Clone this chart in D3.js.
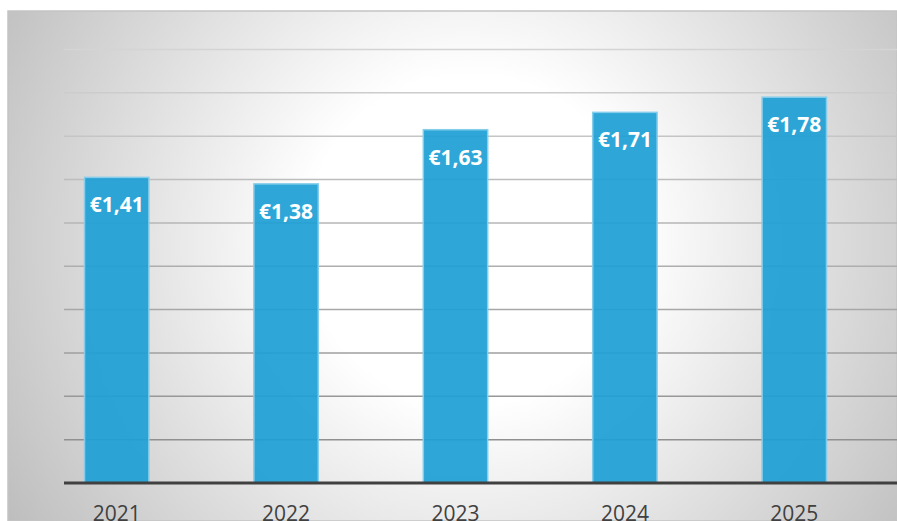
<!DOCTYPE html>
<html>
<head>
<meta charset="utf-8">
<script src="https://cdn.jsdelivr.net/npm/d3@7"></script>
<style>
  html, body { margin: 0; padding: 0; background: #fff; }
  svg { display: block; }
</style>
</head>
<body>
<svg id="chart"></svg>
<script>
const years = ["2021", "2022", "2023", "2024", "2025"];
const prices = [1.41, 1.38, 1.63, 1.71, 1.78];
const gridValues = [0.2, 0.4, 0.6, 0.8, 1.0, 1.2, 1.4, 1.6, 1.8, 2.0];

const width = 897, height = 521;

const svg = d3.select("#chart")
  .attr("width", width)
  .attr("height", height);

// fond en dégradé radial
const defs = svg.append("defs");
const grad = defs.append("radialGradient")
  .attr("id", "bg")
  .attr("gradientUnits", "userSpaceOnUse")
  .attr("cx", 470).attr("cy", 240).attr("r", 550);
grad.append("stop").attr("offset", 0).attr("stop-color", "#ffffff");
grad.append("stop").attr("offset", 0.3).attr("stop-color", "#ffffff");
grad.append("stop").attr("offset", 1).attr("stop-color", "#bcbcbc");

svg.append("rect")
  .attr("x", 8).attr("y", 11)
  .attr("width", width - 8).attr("height", height - 11)
  .attr("fill", "url(#bg)")
  .attr("stroke", "#c4c4c4")
  .attr("stroke-width", 1.5);

const x = d3.scaleBand()
  .domain(years)
  .range([32, 879])
  .paddingInner(0.62)
  .paddingOuter(0.31);

const y = d3.scaleLinear()
  .domain([0, 2.0])
  .range([483, 49.5]);

// lignes de grille, plus foncées vers le bas
const gridColor = d3.scaleLinear()
  .domain([2.0, 0.2])
  .range(["#d4d4d4", "#909090"]);

svg.append("g")
  .selectAll("line")
  .data(gridValues)
  .join("line")
  .attr("x1", 64).attr("x2", width)
  .attr("y1", d => y(d)).attr("y2", d => y(d))
  .attr("stroke", d => gridColor(d))
  .attr("stroke-width", 1.5);

svg.append("g")
  .selectAll("rect")
  .data(prices)
  .join("rect")
  .attr("x", (d, i) => x(years[i]))
  .attr("y", d => y(d))
  .attr("width", x.bandwidth())
  .attr("height", d => y(0) - y(d))
  .attr("fill", "#1ea0d5")
  .attr("fill-opacity", 0.93)
  .attr("stroke", "#85cdea")
  .attr("stroke-width", 1.5);

// axe horizontal
svg.append("line")
  .attr("x1", 64).attr("x2", width)
  .attr("y1", y(0)).attr("y2", y(0))
  .attr("stroke", "#404040")
  .attr("stroke-width", 3);

const fmt = v => "€" + v.toFixed(2).replace(".", ",");

svg.append("g")
  .selectAll("text")
  .data(prices)
  .join("text")
  .attr("x", (d, i) => x(years[i]) + x.bandwidth() / 2)
  .attr("y", d => y(d) + 35)
  .attr("text-anchor", "middle")
  .attr("font-family", "Open Sans")
  .attr("font-weight", "bold")
  .attr("font-size", 21)
  .attr("fill", "#ffffff")
  .text(d => fmt(d));

svg.append("g")
  .selectAll("text")
  .data(years)
  .join("text")
  .attr("x", d => x(d) + x.bandwidth() / 2)
  .attr("y", 521)
  .attr("text-anchor", "middle")
  .attr("font-family", "Open Sans")
  .attr("font-size", 21)
  .attr("fill", "#404040")
  .text(d => d);
</script>
</body>
</html>
